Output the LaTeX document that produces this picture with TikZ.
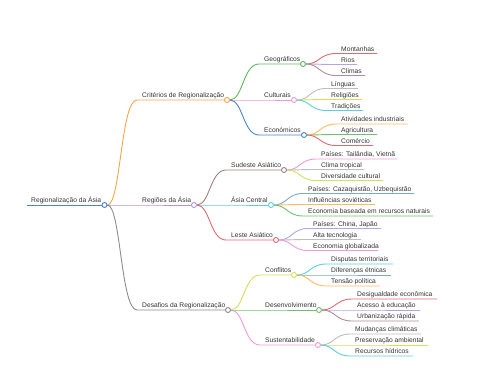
\documentclass[tikz,border=0pt]{standalone}
\usepackage{fontspec}
\setmainfont{Liberation Sans}
\usetikzlibrary{calc,backgrounds}
\definecolor{cBlue}{HTML}{4A86C8}
\definecolor{cOrange}{HTML}{F6A548}
\definecolor{cPurple}{HTML}{B792DA}
\definecolor{cGrey}{HTML}{8C8C8C}
\definecolor{cGreen}{HTML}{5DB85D}
\definecolor{cPink}{HTML}{EE9ADA}
\definecolor{cRed}{HTML}{E06A72}
\definecolor{cLav}{HTML}{B9A2E0}
\definecolor{cMauve}{HTML}{B08C96}
\definecolor{cLGrey}{HTML}{BDBDBD}
\definecolor{cYG}{HTML}{D3E05A}
\definecolor{cCyan}{HTML}{5BCFE0}
\definecolor{cLOrange}{HTML}{FFBA60}
\definecolor{cLGreen}{HTML}{6EC06E}
\definecolor{cBrown}{HTML}{A08080}
\definecolor{cSteel}{HTML}{7BA6D8}
\definecolor{cText}{HTML}{333333}
\tikzset{
  mmtext/.style={inner sep=0pt,text=cText,font=\fontsize{6.7}{8}\selectfont},
  mmdot/.style={circle,fill=white,line width=0.9pt,minimum size=5pt,inner sep=0pt},
  mmline/.style={line width=0.9pt}
}
% #1 name, #2 parent, #3 colour, #4 y, #5 text x, #6 circle x, #7 text
\newcommand\mminner[7]{%
  \coordinate (#1-s) at (#5-5,#4);
  \node[mmtext,anchor=base west] (#1-t) at (#5,#4-2.5) {#7};
  \node[mmdot,draw=#3] (#1) at (#6,#4) {};
  \begin{pgfonlayer}{background}
  \draw[mmline,#3] let \p1=(#2), \p2=(#1-s) in (#2) .. controls ({(\x1+\x2)/2},\y1) and ({(\x1+\x2)/2},\y2) .. (#1-s) -- (#1);
  \end{pgfonlayer}}
% #1 name, #2 parent, #3 colour, #4 y, #5 text x, #6 end x, #7 text
\newcommand\mmleaf[7]{%
  \coordinate (#1-s) at (#5-5,#4);
  \node[mmtext,anchor=base west] (#1-t) at (#5,#4-2.5) {#7};
  \coordinate (#1) at (#6,#4);
  \begin{pgfonlayer}{background}
  \draw[mmline,#3] let \p1=(#2), \p2=(#1-s) in (#2) .. controls ({(\x1+\x2)/2},\y1) and ({(\x1+\x2)/2},\y2) .. (#1-s) -- (#1);
  \end{pgfonlayer}}
\begin{document}
\begin{tikzpicture}[x=1pt,y=-1pt]
\useasboundingbox (0,0) rectangle (480,384);
% root
\coordinate (r-s) at (27,205);
\node[mmtext,anchor=base west] (r-t) at (31,202.5) {Regionalização da Ásia};
\node[mmdot,draw=cBlue] (r) at (104.5,205) {};
\begin{pgfonlayer}{background}
\draw[mmline,cBlue] (r-s) -- (r);
\end{pgfonlayer}
% level 1
\mminner{c1}{r}{cOrange}{100}{142}{227}{Critérios de Regionalização}
\mminner{c2}{r}{cPurple}{205}{142}{194}{Regiões da Ásia}
\mminner{c3}{r}{cGrey}{310}{142}{228}{Desafios da Regionalização}
% level 2
\mminner{g}{c1}{cGreen}{64}{264}{303}{Geográficos}
\mminner{cu}{c1}{cPink}{100}{264}{294}{Culturais}
\mminner{ec}{c1}{cBlue}{135}{264}{304}{Económicos}
\mminner{se}{c2}{cBrown}{170}{231}{284}{Sudeste Asiático}
\mminner{ac}{c2}{cCyan}{205}{231}{271}{Ásia Central}
\mminner{le}{c2}{cRed}{240}{231}{276}{Leste Asiático}
\mminner{cf}{c3}{cYG}{275}{265}{294}{Conflitos}
\mminner{de}{c3}{cLGreen}{310}{265}{319}{Desenvolvimento}
\mminner{su}{c3}{cPink}{345}{265}{318}{Sustentabilidade}
% leaves
\mmleaf{g1}{g}{cRed}{53.5}{341}{377}{Montanhas}
\mmleaf{g2}{g}{cLav}{64.5}{341}{357}{Rios}
\mmleaf{g3}{g}{cMauve}{75.5}{341}{365}{Climas}
\mmleaf{cu1}{cu}{cLGrey}{88.5}{331}{358}{Línguas}
\mmleaf{cu2}{cu}{cYG}{99.5}{331}{362}{Religiões}
\mmleaf{cu3}{cu}{cCyan}{110.5}{331}{363}{Tradições}
\mmleaf{ec1}{ec}{cLOrange}{124}{341}{408}{Atividades industriais}
\mmleaf{ec2}{ec}{cLGreen}{134.5}{341}{377}{Agricultura}
\mmleaf{ec3}{ec}{cRed}{145.5}{341}{373}{Comércio}
\mmleaf{se1}{se}{cPink}{159}{321}{397}{Países: Tailândia, Vietnã}
\mmleaf{se2}{se}{cLGrey}{169.5}{321}{364}{Clima tropical}
\mmleaf{se3}{se}{cYG}{180.5}{321}{383}{Diversidade cultural}
\mmleaf{ac1}{ac}{cSteel}{193.5}{308}{414}{Países: Cazaquistão, Uzbequistão}
\mmleaf{ac2}{ac}{cLOrange}{204.5}{308}{375}{Influências soviéticas}
\mmleaf{ac3}{ac}{cLGreen}{216}{308}{433}{Economia baseada em recursos naturais}
\mmleaf{le1}{le}{cLav}{228.5}{313}{381}{Países: China, Japão}
\mmleaf{le2}{le}{cLGrey}{239.5}{313}{361}{Alta tecnologia}
\mmleaf{le3}{le}{cPink}{250.5}{313}{378}{Economia globalizada}
\mmleaf{cf1}{cf}{cCyan}{264}{331}{393}{Disputas territoriais}
\mmleaf{cf2}{cf}{cSteel}{275}{331}{391}{Diferenças étnicas}
\mmleaf{cf3}{cf}{cLOrange}{286}{331}{380}{Tensão política}
\mmleaf{de1}{de}{cRed}{299}{357}{437}{Desigualdade econômica}
\mmleaf{de2}{de}{cLav}{310}{357}{420}{Acesso à educação}
\mmleaf{de3}{de}{cMauve}{321}{357}{419}{Urbanização rápida}
\mmleaf{su1}{su}{cLGrey}{334}{355}{421}{Mudanças climáticas}
\mmleaf{su2}{su}{cYG}{345}{355}{428}{Preservação ambiental}
\mmleaf{su3}{su}{cCyan}{356}{355}{413}{Recursos hídricos}
\end{tikzpicture}
\end{document}
